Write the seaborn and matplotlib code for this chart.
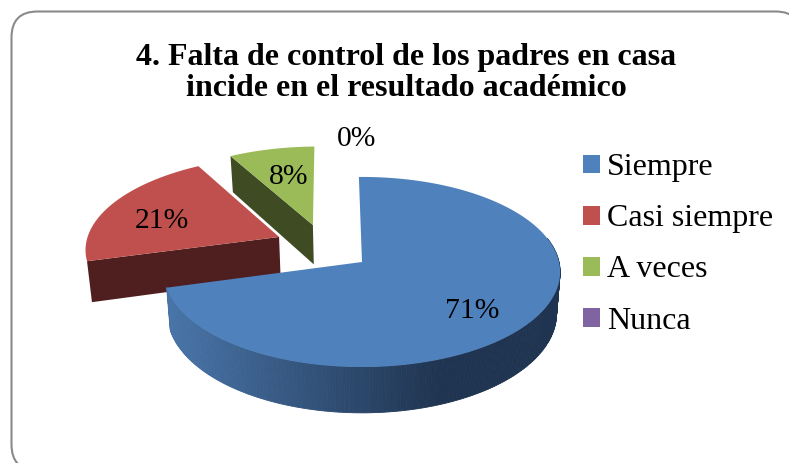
import numpy as np
import matplotlib
matplotlib.use("Agg")
import matplotlib.pyplot as plt
from matplotlib.patches import FancyBboxPatch, Patch, Polygon
from matplotlib.collections import PolyCollection
import seaborn as sns

categories = ["Siempre", "Casi siempre", "A veces", "Nunca"]
values = [71, 21, 8, 0]
title = "4. Falta de control de los padres en casa\nincide en el resultado académico"

palette = sns.color_palette(["#4F81BD", "#C0504D", "#9BBB59", "#8064A2"])
wall_colors = ["#1F3450", "#4E1F1E", "#3E4B23", "#3F2F52"]

sns.set_theme(style="white")
plt.rcParams["font.family"] = ["Liberation Serif", "DejaVu Serif"]

# projection of the tilted pie plane onto the figure
X0, Y0 = 362.0, 262.0
F, G, K = 197.0, 94.0, 0.105
WALL, SHRINK = 41.0, 0.982
START = np.radians(-1.0)
# exploded apex of each slice in the pie plane
offsets = [(0.0, 0.0), (-0.433, 0.274), (-0.26, 0.41), (0.0, 0.0)]


def top(px, pz):
    s = 1.0 / (1.0 + K * pz)
    return X0 + F * px * s, Y0 - G * pz * s


def bottom(px, pz):
    x, y = top(px, pz)
    return X0 + (x - X0) * SHRINK, y + WALL / (1.0 + K * pz)


def rim(offset, theta):
    return offset[0] + np.sin(theta), offset[1] + np.cos(theta)


fig = plt.figure(figsize=(7.89, 4.63), dpi=100, facecolor="white")
ax = fig.add_axes([0, 0, 1, 1])
ax.set_xlim(0, 789)
ax.set_ylim(463, 0)
ax.axis("off")

ax.add_patch(FancyBboxPatch((11.5, 11.5), 790, 459,
                            boxstyle="round,pad=0,rounding_size=26",
                            fc="white", ec="#8A8A8A", lw=1.5, zorder=0))

fractions = np.array(values, dtype=float) / sum(values)
edges = START + np.concatenate([[0.0], np.cumsum(fractions)]) * 2 * np.pi

z = 10
for i in [2, 1, 0]:
    t0, t1 = edges[i], edges[i + 1]
    off = offsets[i]
    th = np.linspace(t0, t1, 200)
    if i == 0:
        # curved outer wall with a shaded gradient
        vis = np.linspace(np.radians(75), t1, 240)
        quads, cols = [], []
        dark = np.array(matplotlib.colors.to_rgb("#1F3450"))
        light = np.array(matplotlib.colors.to_rgb("#4874A8"))
        for a, b in zip(vis[:-1], vis[1:]):
            pa, pb = rim(off, a), rim(off, b)
            quads.append([top(*pa), top(*pb), bottom(*pb), bottom(*pa)])
            xm = top(*pa)[0]
            w = np.clip((440 - xm) / 270.0, 0, 1)
            cols.append(dark + (light - dark) * w)
        ax.add_collection(PolyCollection(quads, facecolors=cols, edgecolors=cols,
                                         linewidths=0.6, zorder=z))
    else:
        p = rim(off, t0)
        ax.add_patch(Polygon([top(*off), top(*p), bottom(*p), bottom(*off)],
                             fc=wall_colors[i], ec="none", zorder=z))
    face = [top(*off)] + [top(*rim(off, a)) for a in th]
    ax.add_patch(Polygon(face, fc=palette[i], ec="none", zorder=z + 1))
    z += 2

label_pos = [(472, 311), (162, 221), (289, 177), (357, 139)]
for v, (x, y) in zip(values, label_pos):
    ax.text(x, y, f"{v}%", ha="center", va="center", fontsize=21.3,
            color="black", zorder=30)

ax.text(406, 73, title, ha="center", va="center", fontsize=23.05, fontweight="bold",
        linespacing=1.12, color="black", zorder=30)

handles = [Patch(fc=c, ec="none", label=n) for c, n in zip(palette, categories)]
ax.legend(handles=handles, loc="upper left", bbox_to_anchor=(577 / 789, 1 - 147 / 463),
          frameon=False, fontsize=23, handlelength=0.53, handleheight=0.53,
          handletextpad=0.22, labelspacing=0.69, borderpad=0.2, borderaxespad=0,
          labelcolor="black")

fig.savefig("out.png", dpi=100, facecolor="white")
